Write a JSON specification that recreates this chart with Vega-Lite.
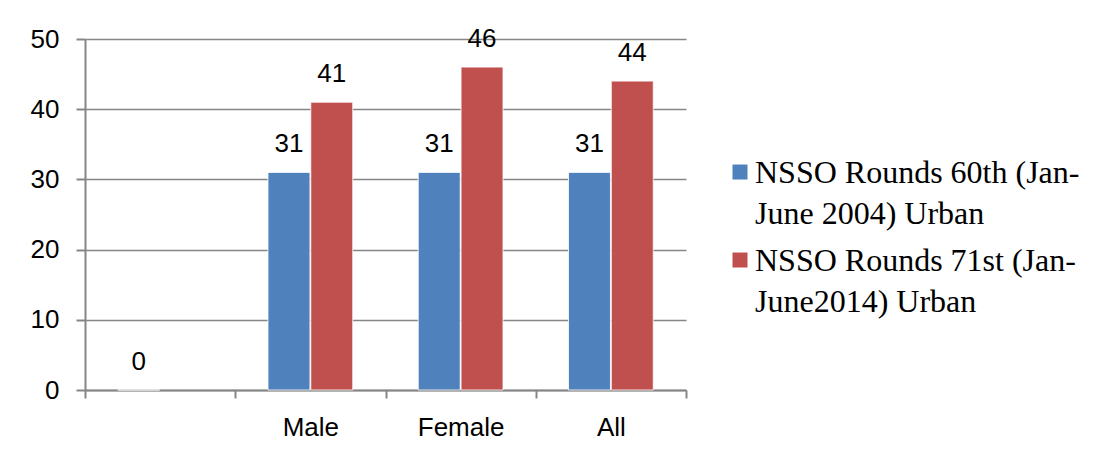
{
  "$schema": "https://vega.github.io/schema/vega-lite/v6.json",
  "autosize": {"type": "none"},
  "padding": {"left": 85, "top": 39, "right": 416, "bottom": 69},
  "width": 601,
  "height": 351,
  "background": "white",
  "config": {"view": {"stroke": null}, "font": "Liberation Sans", "style": {"guide-label": {"lineHeight": 41}}},
  "data": {"values": [
    {"cat": "_", "series": "NSSO Rounds 60th (Jan-June 2004) Urban", "value": 0},
    {"cat": "Male", "series": "NSSO Rounds 60th (Jan-June 2004) Urban", "value": 31},
    {"cat": "Male", "series": "NSSO Rounds 71st (Jan-June2014) Urban", "value": 41},
    {"cat": "Female", "series": "NSSO Rounds 60th (Jan-June 2004) Urban", "value": 31},
    {"cat": "Female", "series": "NSSO Rounds 71st (Jan-June2014) Urban", "value": 46},
    {"cat": "All", "series": "NSSO Rounds 60th (Jan-June 2004) Urban", "value": 31},
    {"cat": "All", "series": "NSSO Rounds 71st (Jan-June2014) Urban", "value": 44}
  ]},
  "encoding": {
    "x": {
      "field": "cat", "type": "nominal", "sort": ["_", "Male", "Female", "All"],
      "scale": {"paddingInner": 0, "paddingOuter": 0},
      "axis": {
        "title": null, "labelAngle": 0, "labelExpr": "datum.value == '_' ? '' : datum.value",
        "labelFontSize": 26, "labelColor": "#000", "labelPadding": 16,
        "domainColor": "#868686", "domainWidth": 2, "tickColor": "#868686", "tickWidth": 2,
        "tickSize": 8, "tickBand": "extent", "grid": false
      }
    },
    "xOffset": {
      "field": "series", "type": "nominal",
      "scale": {"paddingOuter": 0.765, "paddingInner": 0.02}
    },
    "y": {
      "field": "value", "type": "quantitative",
      "scale": {"domain": [0, 50], "nice": false},
      "axis": {
        "title": null, "values": [0, 10, 20, 30, 40, 50],
        "labelFontSize": 26, "labelColor": "#000", "labelPadding": 17,
        "domainColor": "#868686", "domainWidth": 2, "tickColor": "#868686", "tickWidth": 2, "tickSize": 9,
        "gridColor": "#868686", "gridWidth": 1.5
      }
    }
  },
  "layer": [
    {
      "mark": {"type": "bar", "stroke": "white", "strokeWidth": 1, "strokeOpacity": 0.8},
      "encoding": {
        "color": {
          "field": "series", "type": "nominal",
          "scale": {"range": ["#4F81BD", "#C0504D"]},
          "legend": {
            "title": null, "orient": "none", "legendX": 639, "legendY": 103,
            "symbolType": "M-1,0.87H1V2.87H-1Z", "symbolSize": 225, "symbolStrokeWidth": 0,
            "labelFont": "Liberation Serif", "labelFontSize": 32, "labelColor": "#000",
            "labelLimit": 400, "labelOffset": -1, "rowPadding": 0, "labelBaseline": "top",
            "labelExpr": "datum.value == 'NSSO Rounds 60th (Jan-June 2004) Urban' ? ['NSSO Rounds 60th (Jan-', 'June 2004) Urban'] : ['NSSO Rounds 71st (Jan-', 'June2014) Urban']"
          }
        }
      }
    },
    {
      "mark": {"type": "text", "baseline": "alphabetic", "dy": -20, "fontSize": 26, "color": "#000"},
      "encoding": {"text": {"field": "value", "type": "quantitative"}}
    }
  ]
}
